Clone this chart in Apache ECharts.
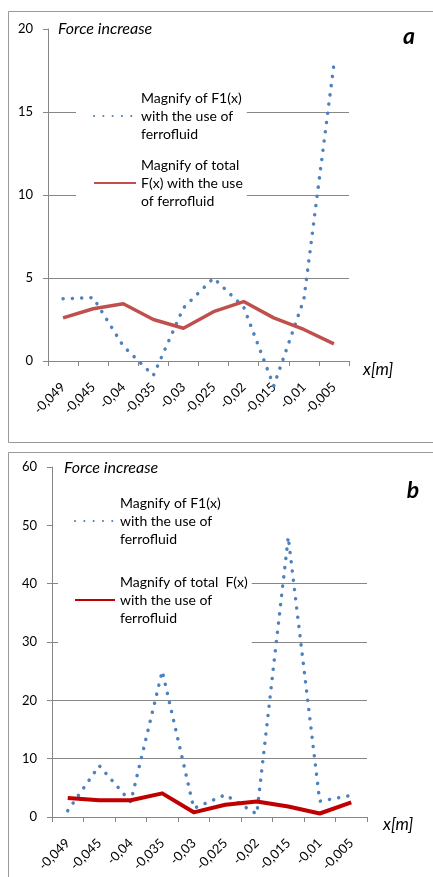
<!DOCTYPE html>
<html><head><meta charset="utf-8">
<script src="https://cdn.jsdelivr.net/npm/echarts@6/dist/echarts.min.js"></script>
<style>html,body{margin:0;padding:0;background:#fff}#c{width:433px;height:877px}</style>
</head><body><div id="c"></div><script>
// ---- data ----
const categories = ['-0,049','-0,045','-0,04','-0,035','-0,03','-0,025','-0,02','-0,015','-0,01','-0,005'];
const f1TopValues = [3.75, 3.82, 0.9, -0.87, 3.2, 5.0, 3.25, -1.5, 3.7, 17.9];
const totalTopValues = [2.6, 3.15, 3.45, 2.5, 1.97, 2.97, 3.58, 2.6, 1.9, 1.03];
const f1BottomValues = [1.08, 8.8, 2.57, 25, 1.49, 3.8, 0.5, 48, 2.7, 3.7];
const totalBottomValues = [3.25, 2.86, 2.86, 4.05, 0.8, 2.1, 2.65, 1.8, 0.6, 2.5];
const topYTicks = {min: 0, max: 20, interval: 5};
const bottomYTicks = {min: 0, max: 60, interval: 10};

const nameF1Top = 'Magnify of F1(x) with the use of ferrofluid';
const nameTotTop = 'Magnify of total F(x) with the use of ferrofluid';
const nameF1Bot = 'Magnify of F1(x) with the use of ferrofluid ';
const nameTotBot = 'Magnify of total  F(x) with the use of ferrofluid';
const legendText = {};
legendText[nameF1Top] = 'Magnify of F1(x)\nwith the use of\nferrofluid';
legendText[nameTotTop] = 'Magnify of total\nF(x) with the use\nof ferrofluid';
legendText[nameF1Bot] = 'Magnify of F1(x)\nwith the use of\nferrofluid';
legendText[nameTotBot] = 'Magnify of total  F(x)\nwith the use of\nferrofluid';

const FONT = 'Lato, "Open Sans", sans-serif';
const GRAY = '#868686';
const BLUE = '#4F81BD';
const CLEAR = 'rgba(0,0,0,0)';

function xAxis(gi) {
  return {
    type: 'category', gridIndex: gi, data: categories, boundaryGap: true,
    axisLine: {show: true, onZero: false, lineStyle: {color: GRAY, width: 1}},
    axisTick: {show: true, length: 5, lineStyle: {color: GRAY}},
    axisLabel: {rotate: 45, margin: 24, fontFamily: FONT, fontSize: 13, color: '#000', interval: 0},
    splitLine: {show: false}
  };
}
function yAxis(gi, t, colors) {
  return {
    type: 'value', gridIndex: gi, min: t.min, max: t.max, interval: t.interval,
    axisLine: {show: true, lineStyle: {color: GRAY, width: 1}},
    axisTick: {show: true, length: 5, lineStyle: {color: GRAY}},
    axisLabel: {margin: 15, fontFamily: FONT, fontSize: 13, color: '#000'},
    splitLine: {show: true, lineStyle: {color: colors, width: 1}}
  };
}
const dotStyle = {color: BLUE, width: 3.5, type: [0.1, 9.2], cap: 'round', join: 'round'};
const legendCommon = {
  orient: 'vertical', itemHeight: 14, backgroundColor: '#fff', selectedMode: false,
  formatter: n => legendText[n],
  itemStyle: {color: CLEAR, borderColor: CLEAR, borderWidth: 0, opacity: 0},
  textStyle: {fontFamily: FONT, fontSize: 14, lineHeight: 18, color: '#000', padding: [36, 0, 0, 0]}
};

const option = {
  animation: false,
  backgroundColor: '#fff',
  grid: [
    {left: 48, top: 29, width: 301, height: 332},
    {left: 52, top: 467, width: 315, height: 350}
  ],
  xAxis: [xAxis(0), xAxis(1)],
  yAxis: [
    yAxis(0, topYTicks, [GRAY, GRAY, GRAY, GRAY, CLEAR]),
    yAxis(1, bottomYTicks, [GRAY, GRAY, GRAY, GRAY, GRAY, CLEAR, CLEAR])
  ],
  legend: [
    Object.assign({}, legendCommon, {
      data: [nameF1Top, nameTotTop], left: 76, top: 71,
      itemWidth: 42, itemGap: -23, padding: [0, 4, 0, 17]
    }),
    Object.assign({}, legendCommon, {
      data: [nameF1Bot, nameTotBot], left: 58, top: 476,
      itemWidth: 40, itemGap: -11, padding: [0, 4, 0, 16]
    })
  ],
  series: [
    {type: 'line', name: nameF1Top, xAxisIndex: 0, yAxisIndex: 0, data: f1TopValues,
     symbol: 'none', clip: false, lineStyle: dotStyle, itemStyle: {color: BLUE}, z: 2},
    {type: 'line', name: nameTotTop, xAxisIndex: 0, yAxisIndex: 0, data: totalTopValues,
     symbol: 'none', clip: false, lineStyle: {color: '#C0504D', width: 3.5, join: 'round'}, itemStyle: {color: '#C0504D'}, z: 3},
    {type: 'line', name: nameF1Bot, xAxisIndex: 1, yAxisIndex: 1, data: f1BottomValues,
     symbol: 'none', clip: false, lineStyle: dotStyle, itemStyle: {color: BLUE}, z: 2},
    {type: 'line', name: nameTotBot, xAxisIndex: 1, yAxisIndex: 1, data: totalBottomValues,
     symbol: 'none', clip: false, lineStyle: {color: '#C00000', width: 4, join: 'round'}, itemStyle: {color: '#C00000'}, z: 3}
  ],
  graphic: [
    {type: 'rect', z: -10, silent: true, shape: {x: 8.5, y: 11.5, width: 440, height: 431}, style: {fill: 'none', stroke: '#999', lineWidth: 1}},
    {type: 'rect', z: -10, silent: true, shape: {x: 8.5, y: 452.5, width: 440, height: 440}, style: {fill: 'none', stroke: '#999', lineWidth: 1}},
    {type: 'text', z: 10, x: 58, y: 29, style: {text: 'Force increase', font: 'italic 16px ' + FONT, fill: '#000', textAlign: 'left', textVerticalAlign: 'middle'}},
    {type: 'text', z: 10, x: 64, y: 468, style: {text: 'Force increase', font: 'italic 16px ' + FONT, fill: '#000', textAlign: 'left', textVerticalAlign: 'middle'}},
    {type: 'text', z: 10, x: 409, y: 37, style: {text: 'a', font: 'italic bold 23px ' + FONT, fill: '#000', textAlign: 'center', textVerticalAlign: 'middle'}},
    {type: 'text', z: 10, x: 413, y: 491, style: {text: 'b', font: 'italic bold 23px ' + FONT, fill: '#000', textAlign: 'center', textVerticalAlign: 'middle'}},
    {type: 'text', z: 10, x: 363, y: 370, style: {text: 'x[m]', font: 'italic 17px ' + FONT, fill: '#000', textAlign: 'left', textVerticalAlign: 'middle'}},
    {type: 'text', z: 10, x: 383, y: 825, style: {text: 'x[m]', font: 'italic 17px ' + FONT, fill: '#000', textAlign: 'left', textVerticalAlign: 'middle'}}
  ]
};
const chart = echarts.init(document.getElementById('c'), null, {renderer: 'canvas'});
chart.setOption(option);
</script></body></html>
